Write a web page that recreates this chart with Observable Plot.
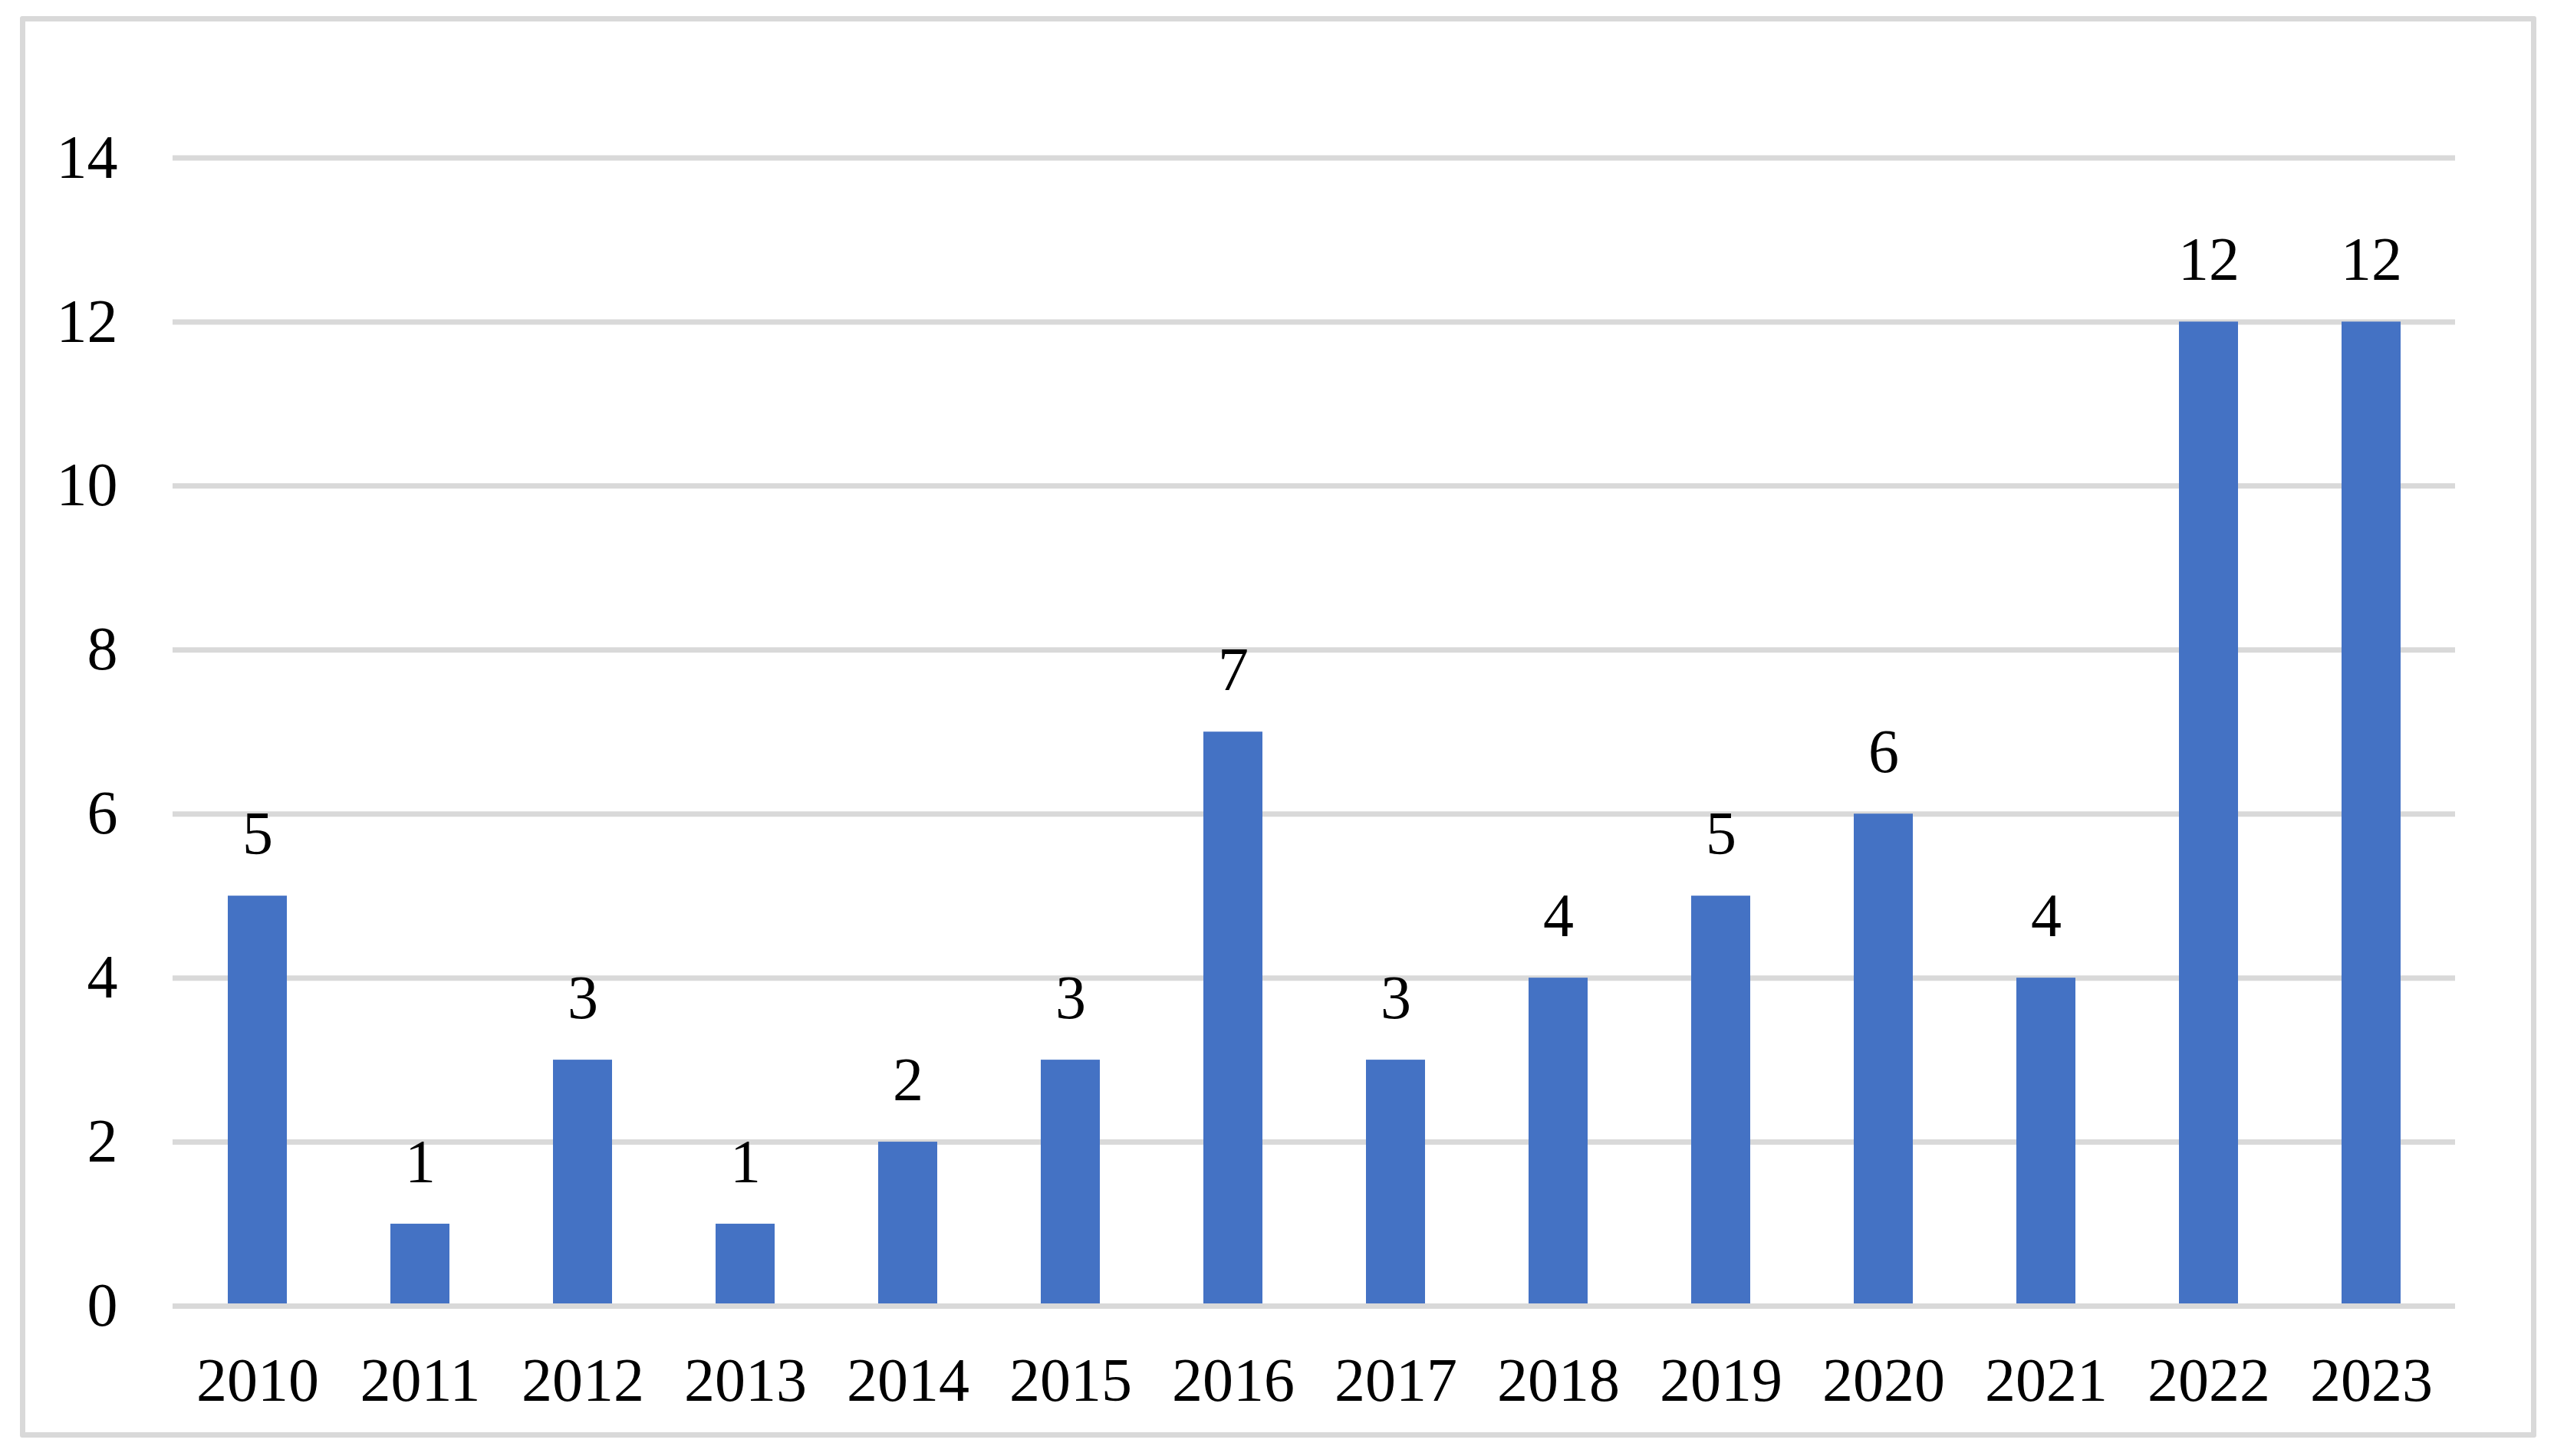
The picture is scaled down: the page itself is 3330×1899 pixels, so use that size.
<!DOCTYPE html>
<html><head><meta charset="utf-8">
<script src="https://cdn.jsdelivr.net/npm/d3@7"></script>
<script src="https://cdn.jsdelivr.net/npm/@observablehq/plot@0.6"></script>
<style>
body{margin:0;background:#fff;}
#wrap{position:relative;width:3330px;height:1899px;}
#frame{position:absolute;left:26px;top:21px;width:3281px;height:1854px;box-sizing:border-box;border:7px solid #d9d9d9;border-radius:3px;pointer-events:none;}
</style></head><body><div id="wrap"><div id="chart"></div><div id="frame"></div></div>
<script>
const years = ["2010","2011","2012","2013","2014","2015","2016","2017","2018","2019","2020","2021","2022","2023"];
const counts = [5,1,3,1,2,3,7,3,4,5,6,4,12,12];
const yTicks = [0,2,4,6,8,10,12,14];
const data = years.map((year,i)=>({year, count: counts[i]}));
const chart = Plot.plot({
  width:3330, height:1899,
  marginLeft:225, marginRight:129, marginTop:205.5, marginBottom:196,
  style:{fontFamily:'"Liberation Serif","Times New Roman",serif', fontSize:"80px", color:"#000", background:"transparent"},
  x:{domain:years, paddingInner:0.638, paddingOuter:0.319, label:null},
  y:{domain:[0,14], label:null},
  marks:[
    Plot.ruleY(yTicks.filter(d=>d>0), {stroke:"#d9d9d9", strokeWidth:7}),
    Plot.barY(data, {x:"year", y:"count", fill:"#4472c4"}),
    Plot.ruleY([0], {stroke:"#d9d9d9", strokeWidth:7}),
    Plot.text(data, {x:"year", y:"count", text:"count", lineAnchor:"bottom", dy:-55, fill:"#000", fontSize:80}),
    Plot.axisY({ticks:yTicks, tickSize:0, tickPadding:72, label:null, fontSize:80}),
    Plot.axisX({tickSize:0, tickPadding:67, label:null, fontSize:80})
  ]
});
document.getElementById("chart").appendChild(chart);
</script></body></html>
